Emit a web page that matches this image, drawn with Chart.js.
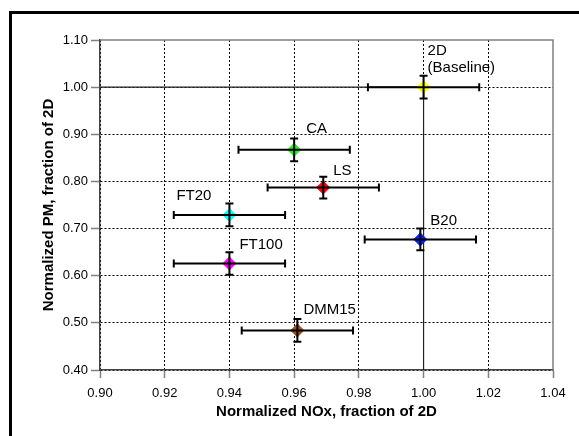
<!DOCTYPE html>
<html>
<head>
<meta charset="utf-8">
<script src="https://cdn.jsdelivr.net/npm/chart.js@4"></script>
<style>
  html, body { margin: 0; padding: 0; background: #fff; }
  #wrap { position: relative; width: 579px; height: 436px; overflow: hidden; }
  #frame { position: absolute; left: 9px; top: 11px; width: 620px; height: 480px;
           border-top: 3px solid #000; border-left: 3px solid #000; pointer-events: none; }
</style>
</head>
<body>
<div id="wrap"><canvas id="c"></canvas><div id="frame"></div></div>
<script>
// Fuel blends, normalized to the 2D baseline
const fuels      = ['2D', 'CA', 'LS', 'FT20', 'FT100', 'B20', 'DMM15'];
const fuelLabels = [['2D', '(Baseline)'], ['CA'], ['LS'], ['FT20'], ['FT100'], ['B20'], ['DMM15']];
const noxValues  = [1.000, 0.960, 0.969, 0.940, 0.940, 0.999, 0.961];
const pmValues   = [1.000, 0.867, 0.787, 0.729, 0.626, 0.677, 0.484];
const noxErrors  = [0.0172, 0.0172, 0.0172, 0.0172, 0.0172, 0.0172, 0.0172];
const pmErrors   = [0.024, 0.024, 0.023, 0.024, 0.024, 0.023, 0.024];

// Baseline guide: across at PM = 1.00, then down at NOx = 1.00
const guideNox = [0.90, 1.00, 1.00];
const guidePm  = [1.00, 1.00, 0.40];

const xTickValues = [0.90, 0.92, 0.94, 0.96, 0.98, 1.00, 1.02, 1.04];
const yTickValues = [0.40, 0.50, 0.60, 0.70, 0.80, 0.90, 1.00, 1.10];

const markerColors = ['#ffff00', '#22ee22', '#ff0000', '#00ffff', '#ff00ff', '#0022ff', '#9a4e1c'];
// label placement relative to each marker (px): left edge, first-line centre
const labelOffsets = [[4, -36], [12, -21], [10, -17], [-53, -19], [10, -19], [10, -19], [6, -21]];

const FONT = "'Liberation Sans', Arial, sans-serif";

const plotFrame = {
  id: 'plotFrame',
  beforeDatasetsDraw(chart) {
    const { ctx, chartArea: a } = chart;
    ctx.save();
    ctx.strokeStyle = '#808080';
    ctx.lineWidth = 1.5;
    ctx.beginPath();
    ctx.moveTo(a.left, a.top);
    ctx.lineTo(a.right, a.top);
    ctx.lineTo(a.right, a.bottom);
    ctx.stroke();
    ctx.restore();
  }
};

const errorBars = {
  id: 'errorBars',
  afterDatasetsDraw(chart) {
    const { ctx, scales: { x, y } } = chart;
    const cap = 4;
    ctx.save();
    ctx.strokeStyle = '#000';
    ctx.lineWidth = 2;
    noxValues.forEach((nx, i) => {
      const pm = pmValues[i];
      const px = x.getPixelForValue(nx), py = y.getPixelForValue(pm);
      const xl = x.getPixelForValue(nx - noxErrors[i]);
      const xr = x.getPixelForValue(nx + noxErrors[i]);
      const yt = y.getPixelForValue(pm + pmErrors[i]);
      const yb = y.getPixelForValue(pm - pmErrors[i]);
      ctx.beginPath();
      ctx.moveTo(xl, py); ctx.lineTo(xr, py);
      ctx.moveTo(xl, py - cap); ctx.lineTo(xl, py + cap);
      ctx.moveTo(xr, py - cap); ctx.lineTo(xr, py + cap);
      ctx.moveTo(px, yt); ctx.lineTo(px, yb);
      ctx.moveTo(px - cap, yt); ctx.lineTo(px + cap, yt);
      ctx.moveTo(px - cap, yb); ctx.lineTo(px + cap, yb);
      ctx.stroke();
    });
    ctx.fillStyle = '#000';
    ctx.font = '15px ' + FONT;
    ctx.textAlign = 'left';
    ctx.textBaseline = 'middle';
    fuelLabels.forEach((lines, i) => {
      const px = x.getPixelForValue(noxValues[i]);
      const py = y.getPixelForValue(pmValues[i]);
      const [dx, dy] = labelOffsets[i];
      lines.forEach((t, k) => ctx.fillText(t, px + dx, py + dy + k * 17));
    });
    ctx.restore();
  }
};

const edgeTransparent = (vals) => (c) => {
  const v = c.tick ? c.tick.value : null;
  return (v !== null && Math.abs(v - vals[vals.length - 1]) < 1e-9) ? 'rgba(0,0,0,0)' : '#000';
};

new Chart(document.getElementById('c'), {
  type: 'scatter',
  data: {
    datasets: [
      {
        label: 'Fuels',
        data: fuels.map((f, i) => ({ x: noxValues[i], y: pmValues[i] })),
        pointStyle: 'rectRot',
        pointRadius: 6.5,
        pointBackgroundColor: markerColors,
        pointBorderColor: markerColors,
        pointBorderWidth: 1,
        order: 1
      },
      {
        label: 'Baseline',
        data: guideNox.map((v, i) => ({ x: v, y: guidePm[i] })),
        showLine: true,
        borderColor: '#222',
        borderWidth: 1.2,
        pointRadius: 0,
        fill: false,
        order: 2
      }
    ]
  },
  options: {
    responsive: true,
    maintainAspectRatio: false,
    animation: false,
    layout: { padding: { top: 40, right: 26, left: 0, bottom: 0 } },
    plugins: { legend: { display: false }, tooltip: { enabled: false } },
    scales: {
      x: {
        type: 'linear',
        min: 0.90, max: 1.04,
        afterBuildTicks: (s) => { s.ticks = xTickValues.map(v => ({ value: v })); },
        afterFit: (s) => { s.height = 66; },
        ticks: {
          callback: (v) => Number(v).toFixed(2),
          font: { family: FONT, size: 13 },
          color: '#000',
          padding: 8,
          maxRotation: 0
        },
        grid: {
          color: edgeTransparent(xTickValues),
          lineWidth: 1,
          tickColor: '#808080',
          tickLength: 8,
          tickWidth: 1.5,
          tickBorderDash: []
        },
        border: { color: '#444', width: 1.5, dash: [2, 2] },
        title: {
          display: true,
          text: 'Normalized NOx, fraction of 2D',
          font: { family: FONT, size: 15, weight: 'bold' },
          color: '#000',
          padding: { top: 0, bottom: 15 }
        }
      },
      y: {
        type: 'linear',
        min: 0.40, max: 1.10,
        afterBuildTicks: (s) => { s.ticks = yTickValues.map(v => ({ value: v })); },
        afterFit: (s) => { s.width = 100; },
        ticks: {
          callback: (v) => Number(v).toFixed(2),
          font: { family: FONT, size: 13 },
          color: '#000',
          padding: 3
        },
        grid: {
          color: edgeTransparent(yTickValues),
          lineWidth: 1,
          tickColor: '#808080',
          tickLength: 9,
          tickWidth: 1.5,
          tickBorderDash: []
        },
        border: { color: '#444', width: 1.5, dash: [2, 2] },
        title: {
          display: true,
          text: 'Normalized PM, fraction of 2D',
          font: { family: FONT, size: 15, weight: 'bold' },
          color: '#000',
          padding: { top: 40, bottom: 0 }
        }
      }
    }
  },
  plugins: [plotFrame, errorBars]
});
</script>
</body>
</html>
